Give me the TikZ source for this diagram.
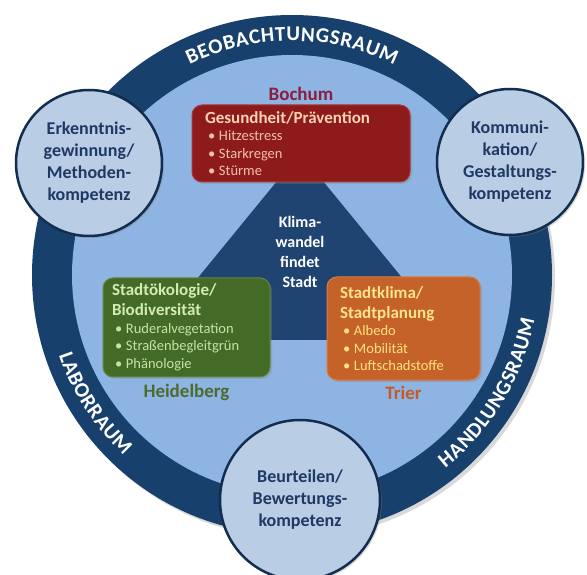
\documentclass[tikz,border=0pt]{standalone}
\usepackage{fontspec}
\setmainfont{Carlito}
\usetikzlibrary{positioning,decorations.text,shadows}
\definecolor{bandblau}{HTML}{17406D}
\definecolor{feldblau}{HTML}{8DB4E2}
\definecolor{kreisblau}{HTML}{B9CDE5}
\definecolor{kreisrand}{HTML}{132D4F}
\definecolor{kreistext}{HTML}{1F3864}
\definecolor{dreieckblau}{HTML}{1F4471}
\definecolor{rotbox}{HTML}{8E1B1B}
\definecolor{rotrand}{HTML}{A83A3A}
\definecolor{rottitel}{HTML}{FAD2B0}
\definecolor{rotpunkt}{HTML}{F2C0B0}
\definecolor{bochumrot}{HTML}{8B1E3F}
\definecolor{gruenbox}{HTML}{436B27}
\definecolor{gruenrand}{HTML}{5E8A3A}
\definecolor{gruentitel}{HTML}{D2ECB4}
\definecolor{gruenpunkt}{HTML}{C6E3A6}
\definecolor{heidelgruen}{HTML}{4E6B2E}
\definecolor{orangebox}{HTML}{C5622A}
\definecolor{orangerand}{HTML}{D87A45}
\definecolor{orangetitel}{HTML}{FFE58A}
\definecolor{orangepunkt}{HTML}{FFE27E}
\definecolor{trierorange}{HTML}{C55A28}
\tikzstyle{kompetenz}=[
        circle,
        draw = kreisrand,
        line width = 2.5pt,
        fill = kreisblau,
        minimum size = 146pt,
        inner sep = 0pt,
        align = center,
        text = kreistext,
        font = \fontsize{18}{22}\selectfont\bfseries,
        drop shadow = {opacity = .3, shadow xshift = 2pt, shadow yshift = -2pt}
    ]
\tikzstyle{themen}=[
    rounded corners = 10pt,
    line width = 1pt,
    align = left,
    inner ysep = 4pt,
    font = \fontsize{14.5}{17.5}\selectfont,
    drop shadow = {opacity = .3, shadow xshift = 2pt, shadow yshift = -2pt}
]
\tikzstyle{ort}=[
    inner sep = 0pt,
    font = \fontsize{19}{19}\selectfont\bfseries
]
\tikzstyle{raum}=[
    decorate,
    decoration = {text effects along path, text = {#1}, text align = center,
        text effects/.cd, text along path,
        character widths = {inner xsep = 0.3pt, font = \fontsize{21}{21}\selectfont\bfseries},
        characters = {text = white, font = \fontsize{21}{21}\selectfont\bfseries}}
]
\newcommand{\titel}[1]{{\fontsize{17}{17}\selectfont\bfseries #1}}
\newcommand{\punkt}[1]{\hspace*{3pt}\makebox[11pt][l]{\textbullet}#1}

\begin{document}
\begin{tikzpicture}[x=1pt, y=1pt]
        \useasboundingbox (0,0) rectangle (587,574);
        \clip (0,0) rectangle (587,574);

        \node[circle, fill = bandblau, minimum size = 520pt,
            drop shadow = {opacity = .3, shadow xshift = 3pt, shadow yshift = -3pt}] (band) at (292,299) {};
        \node[circle, fill = feldblau, minimum size = 440pt] (feld) at (292,299) {};

        \coordinate (spitze) at (300,421);
        \coordinate (links) at (147,234);
        \coordinate (rechts) at (453,234);
        \fill[dreieckblau] (spitze) -- (links) -- (rechts) -- cycle;

        \node[themen, fill = rotbox, draw = rotrand, text width = 192pt, inner xsep = 13pt,
            minimum height = 77pt] (rot) at (301,430.5)
            {\textcolor{rottitel}{\titel{Gesundheit/Prävention}}\\
            \color{rotpunkt}\punkt{Hitzestress}\\
            \punkt{Starkregen}\\
            \punkt{Stürme}};
        \node[themen, fill = gruenbox, draw = gruenrand, text width = 149pt, inner xsep = 9pt,
            minimum height = 99pt] (gruen) at (186.5,246.5)
            {\textcolor{gruentitel}{\titel{Stadtökologie/}}\\[2.5pt]
            \textcolor{gruentitel}{\titel{Biodiversität}}\\
            \color{gruenpunkt}\punkt{Ruderalvegetation}\\
            \punkt{Straßenbegleitgrün}\\
            \punkt{Phänologie}};
        \node[themen, fill = orangebox, draw = orangerand, text width = 127pt, inner xsep = 13pt,
            minimum height = 103pt] (orange) at (403.5,245.5)
            {\textcolor{orangetitel}{\titel{Stadtklima/}}\\[2.5pt]
            \textcolor{orangetitel}{\titel{Stadtplanung}}\\
            \color{orangepunkt}\punkt{Albedo}\\
            \punkt{Mobilität}\\
            \punkt{Luftschadstoffe}};

        \node[ort, text = bochumrot] (bochum) [above = 4pt of rot] {Bochum};
        \node[ort, text = heidelgruen] (heidelberg) [below = 6pt of gruen] {Heidelberg};
        \node[ort, text = trierorange] (trier) [below = 5pt of orange] {Trier};

        \node[align = center, text = white, font = \fontsize{16}{20}\selectfont\bfseries] (klima) at (300,322)
            {Klima-\\wandel\\findet\\Stadt};

        \node[kompetenz] (erkenntnis) at (89,411) {Erkenntnis-\\gewinnung/\\Methoden-\\kompetenz};
        \node[kompetenz] (kommunikation) at (510,412) {Kommuni-\\kation/\\Gestaltungs-\\kompetenz};
        \node[kompetenz, minimum size = 160pt] (beurteilen) at (300,74) {Beurteilen/\\Bewertungs-\\kompetenz};

        \path[raum = BEOBACHTUNGSRAUM] (band.center) ++(150:234) arc[start angle = 150, end angle = 30, radius = 234];
        \path[raum = LABORRAUM] (band.center) ++(183:246.5) arc[start angle = 183, end angle = 243, radius = 246.5];
        \path[raum = HANDLUNGSRAUM] (band.center) ++(-61:246.5) arc[start angle = -61, end angle = -1, radius = 246.5];

    \end{tikzpicture}
\end{document}
